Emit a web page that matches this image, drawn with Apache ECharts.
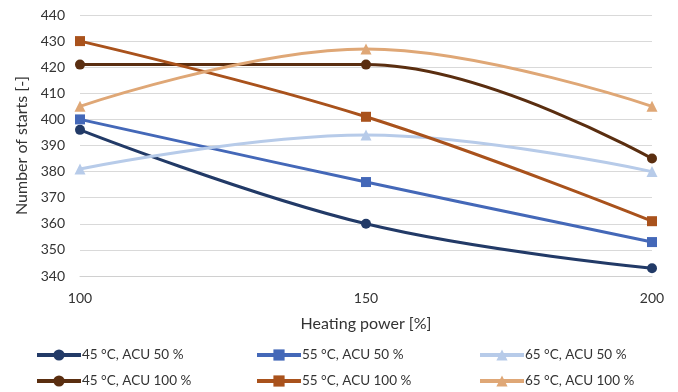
<!DOCTYPE html>
<html>
<head>
<meta charset="utf-8">
<script src="https://cdn.jsdelivr.net/npm/echarts@6/dist/echarts.min.js"></script>
<style>
  html, body { margin: 0; padding: 0; background: #fff; }
  #chart { width: 678px; height: 392px; }
</style>
</head>
<body>
<div id="chart"></div>
<script>
// Heating power categories and tick settings
const powers = ['100', '150', '200'];
const yMin = 340, yMax = 440, yStep = 10;

// Number of starts per configuration
const s45_50 = [396, 360, 343];
const s55_50 = [400, 376, 353];
const s65_50 = [381, 394, 380];
const s45_100 = [421, 421, 385];
const s55_100 = [430, 401, 361];
const s65_100 = [405, 427, 405];

const names = ['45 °C, ACU 50 %', '55 °C, ACU 50 %', '65 °C, ACU 50 %',
               '45 °C, ACU 100 %', '55 °C, ACU 100 %', '65 °C, ACU 100 %'];
const values = [s45_50, s55_50, s65_50, s45_100, s55_100, s65_100];
const colors = ['#223a67', '#4468b8', '#b7cbe9', '#5a2e10', '#a9521c', '#dfa776'];
const symbols = ['circle', 'rect', 'triangle', 'circle', 'rect', 'triangle'];

const font = 'Lato, "Open Sans", sans-serif';

const series = names.map((n, i) => ({
  name: n,
  type: 'line',
  data: values[i],
  smooth: 0.4,
  symbol: symbols[i],
  symbolSize: symbols[i] === 'triangle' ? 11 : 10,
  showAllSymbol: true,
  lineStyle: { color: colors[i], width: 3 },
  itemStyle: { color: colors[i] }
}));

// One legend per entry so the columns line up
const legendPos = [[35, 348], [255, 348], [478, 348], [35, 374], [255, 374], [478, 374]];
const legends = names.map((n, i) => ({
  data: [n],
  left: legendPos[i][0],
  top: legendPos[i][1],
  padding: 0,
  itemWidth: 44,
  itemHeight: 14,
  itemGap: 0,
  lineStyle: { width: 4 },
  textStyle: { fontFamily: font, fontSize: 13.5, color: '#333', padding: [0, 0, 0, -4] }
}));

const chart = echarts.init(document.getElementById('chart'));
chart.setOption({
  animation: false,
  backgroundColor: '#fff',
  grid: { left: 80, right: 26, top: 15, bottom: 116 },
  legend: legends,
  xAxis: {
    type: 'category',
    data: powers,
    boundaryGap: false,
    name: 'Heating power [%]',
    nameLocation: 'middle',
    nameGap: 40,
    nameTextStyle: { fontFamily: font, fontSize: 16, color: '#333' },
    axisLine: { lineStyle: { color: '#d0d0d0' } },
    axisTick: { show: false },
    axisLabel: { fontFamily: font, fontSize: 14, color: '#333', margin: 15 }
  },
  yAxis: {
    type: 'value',
    min: yMin,
    max: yMax,
    interval: yStep,
    name: 'Number of starts [-]',
    nameLocation: 'middle',
    nameGap: 50,
    nameTextStyle: { fontFamily: font, fontSize: 16, color: '#333' },
    axisLine: { show: false },
    axisTick: { show: false },
    axisLabel: { fontFamily: font, fontSize: 14, color: '#333', margin: 15 },
    splitLine: { lineStyle: { color: '#d9d9d9', width: 1 } }
  },
  series: series
});
</script>
</body>
</html>
